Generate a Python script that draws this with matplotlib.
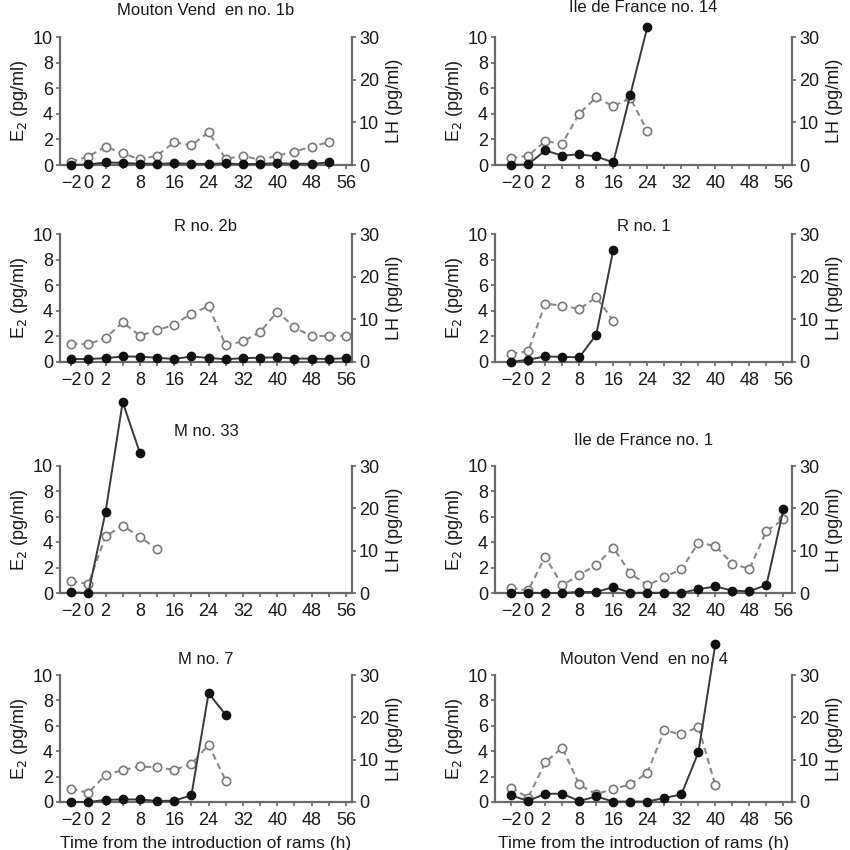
import matplotlib
matplotlib.use('Agg')
import matplotlib.pyplot as plt

plt.rcParams['font.family'] = ['Liberation Sans', 'DejaVu Sans']

# --- data ---
times = [-2, 0, 2, 4, 8, 12, 16, 20, 24, 28, 32, 36, 40, 44, 48, 52, 56]
tick_labels = ['\u22122', '0', '2', '', '8', '', '16', '', '24', '', '32', '', '40', '', '48', '', '56']

titles = ['Mouton Vend  en no. 1b', 'Ile de France no. 14',
          'R no. 2b', 'R no. 1',
          'M no. 33', 'Ile de France no. 1',
          'M no. 7', 'Mouton Vend  en no. 4']

# E2 (left axis, open circles) and LH (right axis, filled circles)
mv1b_e2 = [0.26, 0.65, 1.44, 0.91, 0.44, 0.73, 1.78, 1.54, 2.56, 0.47, 0.73, 0.39, 0.73, 1.04, 1.44, 1.78]
mv1b_lh = [0.0, 0.15, 0.6, 0.5, 0.3, 0.3, 0.4, 0.3, 0.25, 0.4, 0.15, 0.3, 0.4, 0.3, 0.3, 0.6]

if14_e2 = [0.53, 0.74, 1.85, 1.67, 4.02, 5.29, 4.58, 5.24, 2.65]
if14_lh = [0.0, 0.15, 3.4, 2.2, 2.5, 2.0, 0.6, 16.5, 32.3]

r2b_e2 = [1.43, 1.38, 1.88, 3.10, 2.06, 2.47, 2.92, 3.78, 4.35, 1.30, 1.61, 2.34, 3.93, 2.71, 2.00, 2.06, 2.03]
r2b_lh = [0.7, 0.7, 0.9, 1.3, 1.25, 1.0, 0.7, 1.3, 0.95, 0.65, 0.9, 1.0, 1.1, 0.8, 0.8, 0.7, 0.9]

r1_e2 = [0.65, 0.83, 4.56, 4.40, 4.14, 5.05, 3.23]
r1_lh = [0.0, 0.55, 1.3, 1.2, 1.1, 6.4, 26.3]

m33_e2 = [0.93, 0.72, 4.45, 5.31, 4.40, 3.47]
m33_lh = [0.15, 0.0, 19.1, 45.1, 33.1]

if1_e2 = [0.39, 0.21, 2.86, 0.60, 1.43, 2.21, 3.56, 1.56, 0.60, 1.25, 1.87, 3.95, 3.71, 2.29, 1.90, 4.88, 5.79]
if1_lh = [0.0, 0.05, 0.0, 0.0, 0.25, 0.25, 1.4, 0.05, 0.05, 0.05, 0.05, 0.9, 1.55, 0.55, 0.4, 1.9, 19.8]

m7_e2 = [1.05, 0.71, 2.15, 2.51, 2.80, 2.72, 2.54, 2.98, 4.50, 1.68]
m7_lh = [0.0, 0.0, 0.5, 0.6, 0.6, 0.25, 0.3, 1.6, 25.7, 20.6]

mv4_e2 = [1.12, 0.34, 3.12, 4.29, 1.38, 0.60, 1.04, 1.38, 2.29, 5.66, 5.32, 5.92, 1.30]
mv4_lh = [1.55, 0.25, 1.95, 1.95, 0.25, 1.3, 0.1, 0.1, 0.1, 0.95, 1.8, 11.7, 37.4]

e2_series = [mv1b_e2, if14_e2, r2b_e2, r1_e2, m33_e2, if1_e2, m7_e2, mv4_e2]
lh_series = [mv1b_lh, if14_lh, r2b_lh, r1_lh, m33_lh, if1_lh, m7_lh, mv4_lh]

# --- layout (pixels in an 850x850 figure) ---
W = H = 850
col_x = [(60, 352), (495, 792)]
row_y = [(37, 165), (234, 362), (466, 593), (675, 802)]
col_xlim = [(-0.65, 16.35), (-0.95, 16.5)]
title_dy = [0.21, 0.23, 0.055, 0.055, 0.27, 0.20, 0.12, 0.12]

spine_c = '#6a6a6a'
text_c = '#1a1a1a'

fig = plt.figure(figsize=(8.5, 8.5), dpi=100)

for i in range(8):
    r, c = divmod(i, 2)
    x0, x1 = col_x[c]
    y0, y1 = row_y[r]
    ax = fig.add_axes([x0 / W, (H - y1) / H, (x1 - x0) / W, (y1 - y0) / H])
    ax.patch.set_alpha(0)
    ax2 = ax.twinx()

    e2 = e2_series[i]
    lh = lh_series[i]
    ax.plot(range(len(e2)), e2, ls=(0, (3, 2)), color='#8a8a8a', lw=1.5,
            marker='o', ms=6, mfc='white', mec='#7a7a7a', mew=1.2, clip_on=False, zorder=3)
    ax2.plot(range(len(lh)), lh, ls='-', color='#3a3a3a', lw=1.4,
             marker='o', ms=6, mfc='#111111', mec='#111111', clip_on=False, zorder=4)

    ax.set_ylim(0, 10)
    ax2.set_ylim(0, 30)
    ax.set_xlim(*col_xlim[c])
    ax.set_yticks([0, 2, 4, 6, 8, 10])
    ax2.set_yticks([0, 10, 20, 30])
    ax.set_xticks(range(len(times)))
    ax.set_xticklabels(tick_labels)

    for a in (ax, ax2):
        a.spines['top'].set_visible(False)
        for s in a.spines.values():
            s.set_color(spine_c)
            s.set_linewidth(1.6)
        a.tick_params(colors=spine_c, labelcolor=text_c, labelsize=13, length=3, width=1.2, pad=2)
    ax.tick_params(axis='x', pad=4)
    ax.spines['right'].set_visible(False)
    ax2.spines['left'].set_visible(False)
    ax2.spines['bottom'].set_visible(False)

    ax.set_ylabel('E$_2$ (pg/ml)', fontsize=13, color=text_c, labelpad=2)
    ax2.set_ylabel('LH (pg/ml)', fontsize=13, color=text_c, labelpad=5)

    ax.text(0.5, 1 + title_dy[i], titles[i], transform=ax.transAxes, ha='center', va='center',
            fontsize=12, color=text_c)

    if r == 3:
        ax.set_xlabel('Time from the introduction of rams (h)', fontsize=12.5, color=text_c, labelpad=5)

fig.savefig('out.png', dpi=100)
